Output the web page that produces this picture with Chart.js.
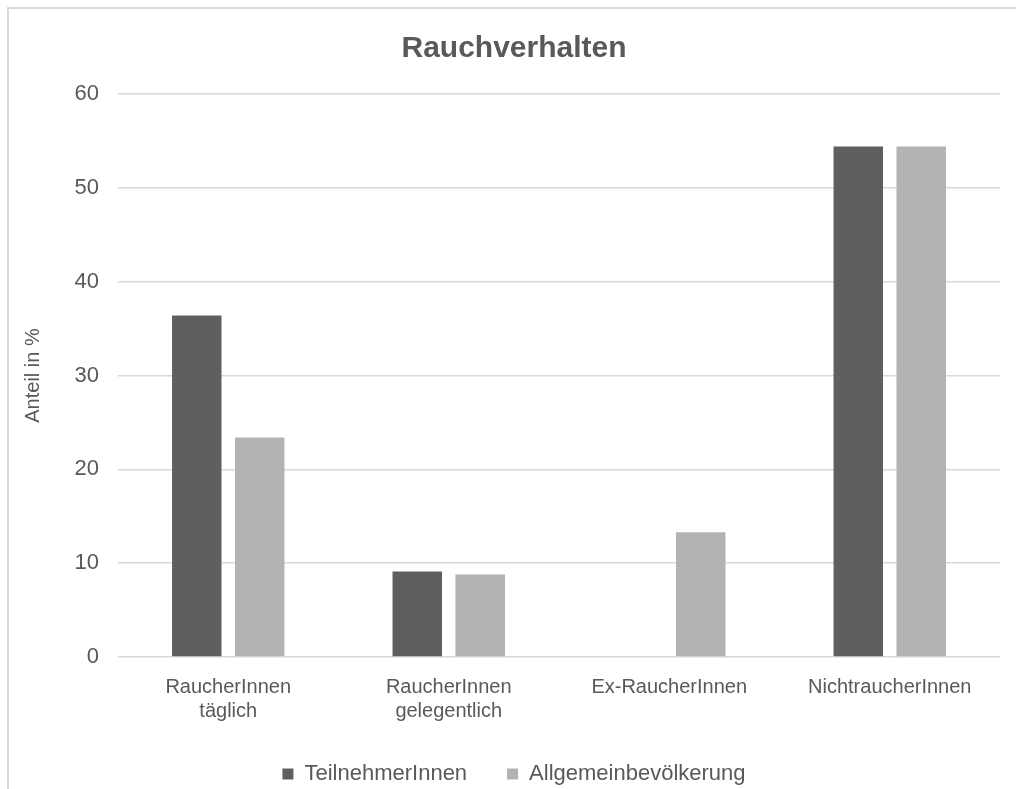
<!DOCTYPE html>
<html>
<head>
    <meta charset="utf-8">
    <title>Rauchverhalten</title>
    <script src="https://cdn.jsdelivr.net/npm/chart.js"></script>
    <style>
        html, body { margin: 0; padding: 0; background: #fff; overflow: hidden; }
        #frame {
            position: absolute; left: 7px; top: 7px; width: 1100px; height: 900px;
            border-left: 2px solid #d9d9d9; border-top: 2px solid #d9d9d9;
        }
        #smokeChart { position: absolute; left: 0; top: 0; }
    </style>
</head>
<body>
    <div id="frame"></div>
    <canvas id="smokeChart" width="1016" height="795"></canvas>

    <script>
        // Chart data
        const categories = [
            ['RaucherInnen', 'täglich'],
            ['RaucherInnen', 'gelegentlich'],
            'Ex-RaucherInnen',
            'NichtraucherInnen'
        ];
        const teilnehmer = [36.4, 9.1, null, 54.4];
        const allgemein = [23.4, 8.8, 13.3, 54.4];
        const yTicks = [0, 10, 20, 30, 40, 50, 60];

        const textColor = '#595959';
        const fontFamily = '"Liberation Sans", Arial, sans-serif';

        const ctx = document.getElementById('smokeChart').getContext('2d');
        new Chart(ctx, {
            type: 'bar',
            data: {
                labels: categories,
                datasets: [{
                    label: 'TeilnehmerInnen',
                    data: teilnehmer,
                    backgroundColor: '#5f5f5f',
                    borderWidth: 0
                }, {
                    label: 'Allgemeinbevölkerung',
                    data: allgemein,
                    backgroundColor: '#b3b3b3',
                    borderWidth: 0
                }]
            },
            options: {
                responsive: false,
                animation: false,
                datasets: {
                    bar: { categoryPercentage: 0.571, barPercentage: 0.786 }
                },
                layout: { padding: { left: 28, right: 16, top: 0, bottom: 0 } },
                plugins: {
                    title: {
                        display: true,
                        text: 'Rauchverhalten',
                        color: textColor,
                        font: { family: fontFamily, size: 30, weight: 'bold' },
                        padding: { top: 31, bottom: 27 }
                    },
                    legend: {
                        position: 'bottom',
                        labels: {
                            color: textColor,
                            font: { family: fontFamily, size: 22 },
                            boxWidth: 11,
                            boxHeight: 11,
                            padding: 40
                        }
                    },
                    tooltip: { enabled: false }
                },
                scales: {
                    x: {
                        grid: { display: false, drawTicks: false },
                        border: { display: false },
                        ticks: {
                            color: textColor,
                            font: { family: fontFamily, size: 20 },
                            padding: 18,
                            maxRotation: 0,
                            autoSkip: false
                        },
                        // two label lines of 24px plus padding
                        afterFit: function (scale) { scale.height = 66; }
                    },
                    y: {
                        min: yTicks[0],
                        max: yTicks[yTicks.length - 1],
                        afterBuildTicks: function (scale) {
                            scale.ticks = yTicks.map(v => ({ value: v }));
                        },
                        grid: { color: '#d9d9d9', lineWidth: 1.5, drawTicks: false },
                        border: { display: false },
                        ticks: {
                            color: textColor,
                            font: { family: fontFamily, size: 22 },
                            padding: 19
                        },
                        title: {
                            display: true,
                            text: 'Anteil in %',
                            color: textColor,
                            font: { family: fontFamily, size: 20 },
                            padding: { top: -7, bottom: 0 }
                        },
                        // plot area starts at x = 118
                        afterFit: function (scale) { scale.width = 90; }
                    }
                }
            }
        });
    </script>
</body>
</html>
